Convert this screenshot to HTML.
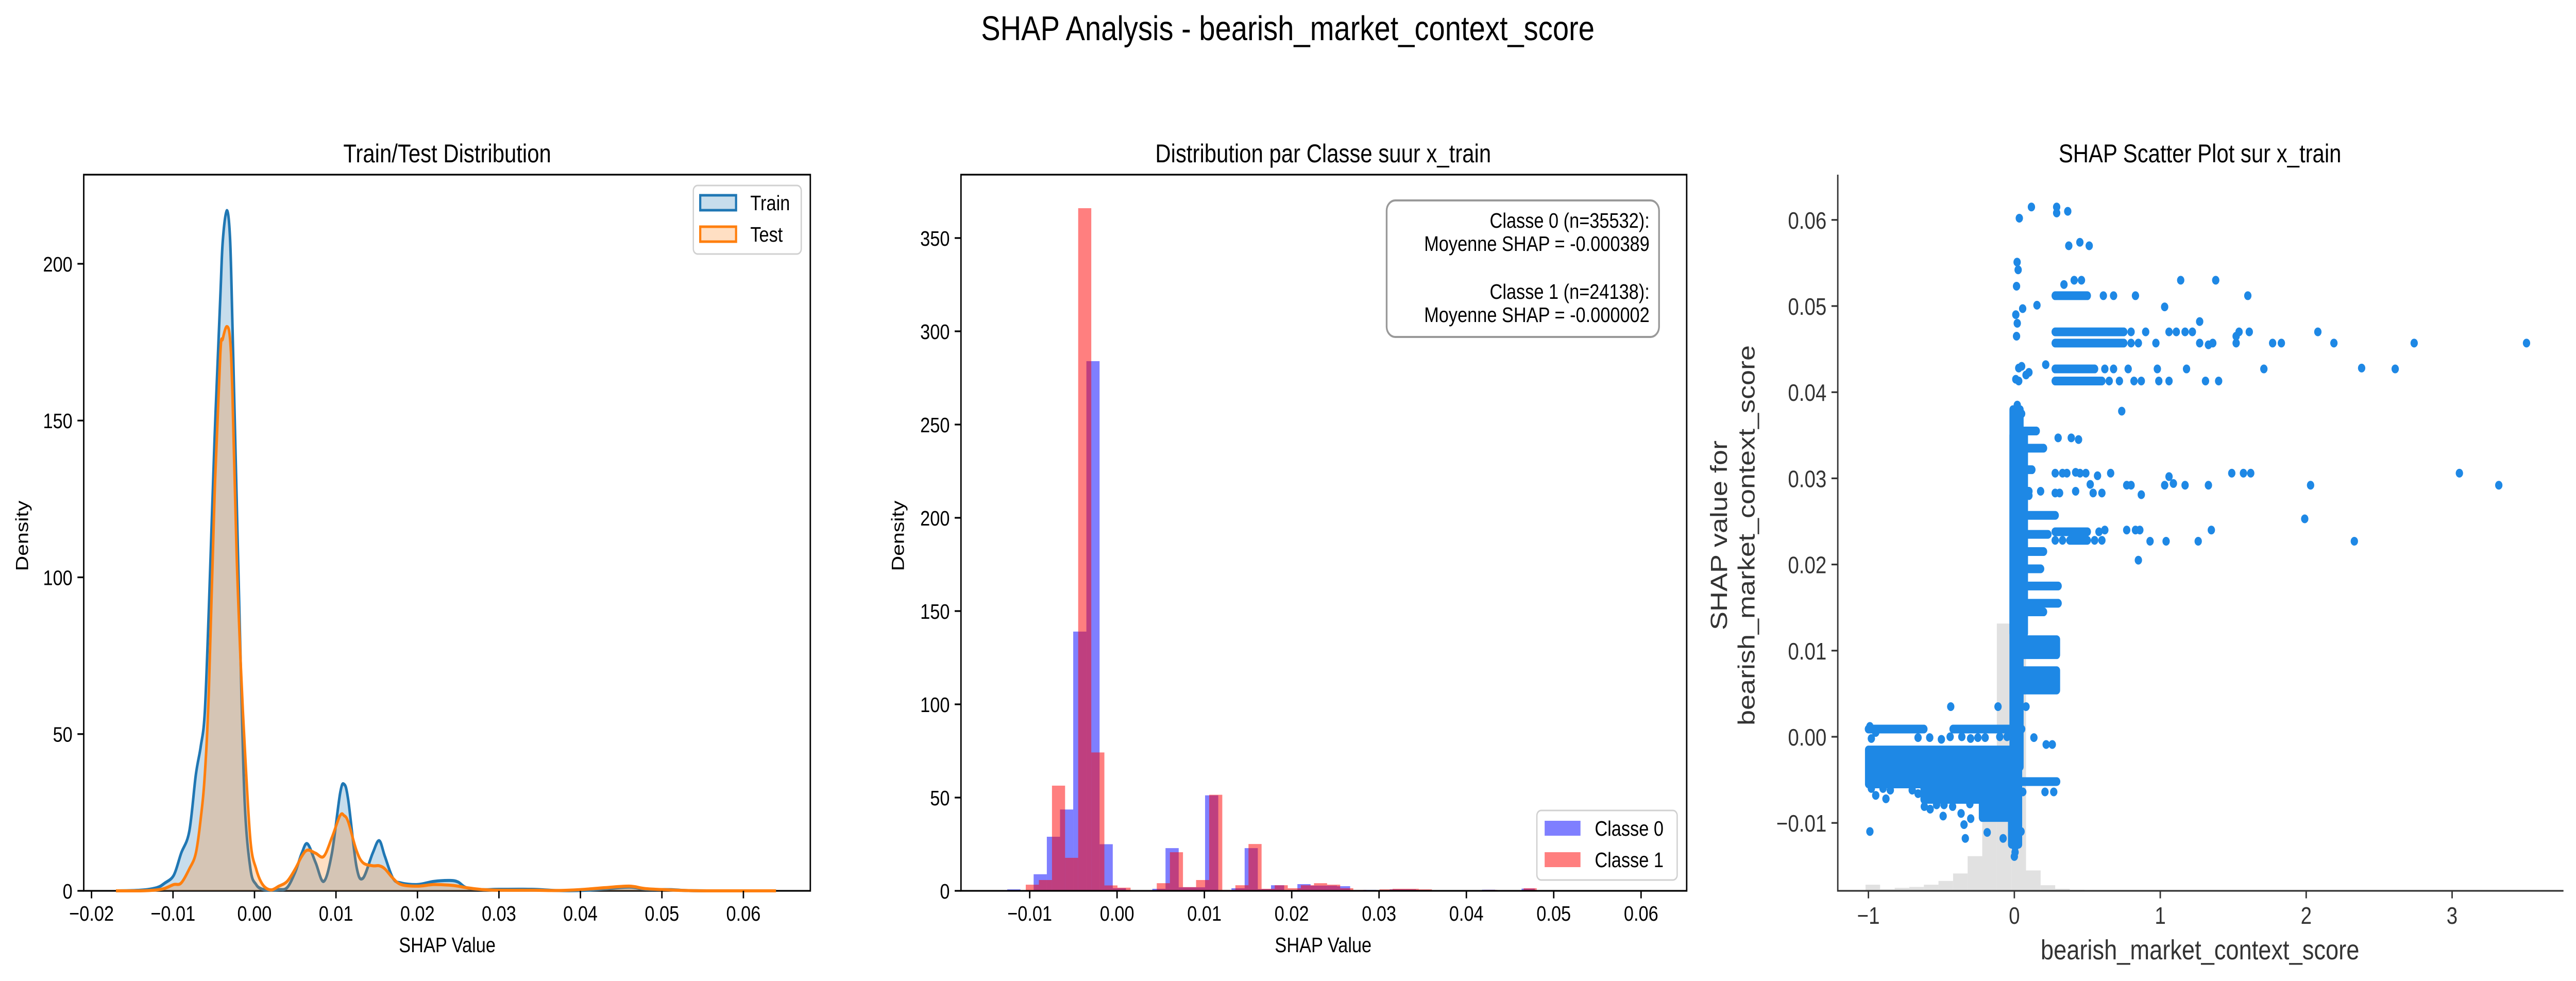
<!DOCTYPE html>
<html><head><meta charset="utf-8">
<style>
html,body{margin:0;padding:0;background:#fff;width:100%;height:100%;overflow:hidden;}
svg{display:block;width:100vw;height:100vh;font-family:"Liberation Sans","DejaVu Sans",sans-serif;}
</style></head>
<body>
<svg id="fig" xmlns="http://www.w3.org/2000/svg" viewBox="0 0 5967 1904" preserveAspectRatio="none">
<rect x="0" y="0" width="5967" height="1904" fill="#fff"/>
<text x="2983" y="78" font-size="67" text-anchor="middle" fill="#000">SHAP Analysis - bearish_market_context_score</text>
<g id="p1"></g>
<g id="p2"></g>
<g id="p3"></g>
</svg>
<script>
// ---------- Panel 1 data: KDE ----------
const kdeX = [-0.0170,-0.0140,-0.0120,-0.0110,-0.0099,-0.0090,-0.0080,-0.0072,-0.0066,-0.0061,-0.0056,-0.0049,-0.0042,-0.0039,-0.0034,-0.0030,-0.0027,-0.0022,-0.0017,-0.0012,-0.0005,0.0002,0.0010,0.0020,0.0030,0.0040,0.0050,0.0058,0.0065,0.0075,0.0085,0.0095,0.0105,0.0110,0.0115,0.0125,0.0133,0.0145,0.0153,0.0160,0.0170,0.0180,0.0200,0.0220,0.0240,0.0250,0.0260,0.0280,0.0300,0.0340,0.0370,0.0400,0.0430,0.0460,0.0480,0.0510,0.0530,0.0560,0.0640];
const trainDensity = [0,0.2,1,2.5,5,12,19,37,46,57,90,144,189,207,217,208,180,126,73,28,7,2,0.5,0.3,0.4,1,6,12,15,9,3,12,31,34,29,8,4,12,16,11,4,2.5,2,3,3.3,2.8,1,0.4,0.5,0.5,0.1,0.1,0.6,1.2,0.5,0.4,0.1,0,0];
const testDensity = [0,0,0.3,0.8,2,2.5,7,12,23,37,64,126,171,176,180,176,158,108,73,46,16,7,2,0.3,1.5,3,7,11,13,12,11,17,24,24,22,13,9,8,8,7,4,2,1.5,2,1.8,1.5,1,0.4,0.2,0.2,0.1,0.4,1,1.5,0.7,0.3,0.1,0,0];
const p1XTicks = [-0.02,-0.01,0.00,0.01,0.02,0.03,0.04,0.05,0.06];
const p1XTickLabels = ["\u22120.02","\u22120.01","0.00","0.01","0.02","0.03","0.04","0.05","0.06"];
const p1YTicks = [0,50,100,150,200];

// ---------- Panel 2 data: histograms ----------
const class0Start = -0.01257;
const class0Width = 0.00151;
const class0Heights = [0.8,0.2,8.9,29,43.6,139,284,25,1.4,0,0.3,1.1,22.9,1.9,1.9,51.2,0.3,1.4,22.9,0.9,3,0.5,3.6,2.8,2.8,2.5,0.3,0.5,0.3,0.8,0.8,0.5,0.2,0.1,0.1,0.3,0.6,0.1,0.2,1.2,0.1,0.1,0.2,0.1];
const class1Start = -0.01195;
const class1Width = 0.00150;
const class1Heights = [0.3,3.3,5.8,56.4,17.7,366,74.2,2.9,1.7,0,0.3,4.1,20.7,2,5.8,51.5,0.5,3,25.1,1.1,3,1.4,3,4.1,3.3,1.4,0.5,0.2,0.8,1.1,1.1,0.8,0.1,0.1,0.1,0.2,0.5,0.1,0.1,1.4,0.1];
const p2XTicks = [-0.01,0.00,0.01,0.02,0.03,0.04,0.05,0.06];
const p2XTickLabels = ["\u22120.01","0.00","0.01","0.02","0.03","0.04","0.05","0.06"];
const p2YTicks = [0,50,100,150,200,250,300,350];

// ---------- Panel 3 data: scatter ----------
const grayStart = -1.02;
const grayWidth = 0.1;
const grayCounts = [6,1.5,2.9,3.8,6,9.7,17,34,69,262,245,20,5.5,2,1,0.5];
const denseX0 = [-1.0,-0.62,-0.22,-0.02,-0.01,0.0,0.0,-0.01];
const denseX1 = [0.03,0.03,0.03,0.03,0.04,0.29,0.29,0.07];
const denseS0 = [-0.0055,-0.0073,-0.0094,-0.0125,-0.0035,0.0095,0.0054,0.012];
const denseS1 = [-0.0015,-0.0049,-0.0073,-0.0094,0.038,0.0113,0.0077,0.035];
const bandX0 = [-1.0,-0.42,0.03,0,0,0,0,0,0,0,0,0,0,0,0.28,0.28,0.28,0.28,0.28,0.28,0.38];
const bandX1 = [-0.62,0.05,0.29,0.3,0.3,0.2,0.18,0.2,0.23,0.28,0.1,0.12,0.2,0.15,0.5,0.75,0.75,0.55,0.6,0.5,0.5];
const bandS  = [0.0009,0.0009,-0.0052,0.0175,0.0155,0.0145,0.0195,0.0215,0.0235,0.0257,0.0285,0.031,0.0335,0.0355,0.0512,0.0470,0.0457,0.0427,0.0413,0.0238,0.0228];
const ptX = [0.034,0.117,0.29,0.29,0.366,0.373,0.449,0.513,0.019,0.026,0.015,0.34,0.41,0.46,0.61,0.68,0.83,1.6,0.155,0.057,1.03,1.14,1.38,0.01,0.02,0.015,
0.80,0.9,1.06,1.11,1.17,1.22,1.54,1.61,2.08,
0.8,0.85,0.97,1.27,1.33,1.36,1.52,1.77,1.83,2.19,2.74,3.51,1.27,1.52,
0.62,0.68,0.78,0.98,1.18,1.71,2.38,2.61,0.215,0.1,0.05,0.03,
0.65,0.72,0.82,0.87,0.99,1.06,1.31,1.40,0.01,0.03,0.08,
0.736,0.30,0.39,0.44,0.02,0.05,
0.28,0.33,0.36,0.42,0.45,0.49,0.57,0.66,1.06,1.49,1.57,1.62,3.05,
0.52,0.77,0.8,1.03,1.09,1.17,1.33,2.03,3.32,
0.28,0.31,0.42,0.54,0.6,0.87,0.1,0.18,
0.58,0.62,0.77,0.83,0.86,1.35,
0.28,0.33,0.55,0.6,0.93,1.04,1.26,2.33,1.99,0.85,
-0.436,-0.112,-0.99,-0.336,-0.186,-0.345,-0.488,-0.617,-0.577,-0.533,-0.482,-0.423,-0.305,-0.365,-0.299,0.134,0.218,0.26,0.058,0.21,0.27,0.046,-0.077,0.005,0.005,0.0,
-0.98,-0.66,-0.58,-0.5,-0.44,-0.36,-0.3,-0.25,-0.2,-0.1,-0.05,
-0.99,-0.95,-0.98,-0.9,-0.85,-0.7,-0.66,-0.55,-0.95,-0.88,
0.08,0.0,0.0];
const ptS = [0.0602,0.0615,0.0615,0.0608,0.061,0.057,0.0574,0.057,0.0551,0.0542,0.0523,0.0525,0.053,0.053,0.0512,0.0512,0.0512,0.0512,0.0501,0.0497,0.0499,0.053,0.053,0.049,0.048,0.0465,
0.047,0.047,0.047,0.047,0.047,0.047,0.047,0.047,0.047,
0.0457,0.0457,0.0457,0.0457,0.0455,0.0457,0.0457,0.0457,0.0457,0.0457,0.0457,0.0457,0.0482,0.0465,
0.0427,0.0427,0.0427,0.0427,0.0427,0.0427,0.0428,0.0427,0.0432,0.0423,0.043,0.0428,
0.0413,0.0413,0.0413,0.0413,0.0413,0.0413,0.0413,0.0413,0.0415,0.0413,0.042,
0.0378,0.0347,0.0347,0.0345,0.0385,0.0375,
0.0306,0.0306,0.0306,0.0307,0.0306,0.0306,0.0303,0.0306,0.0302,0.0306,0.0306,0.0306,0.0306,
0.0293,0.0292,0.0292,0.0292,0.0294,0.0292,0.0292,0.0292,0.0292,
0.0283,0.0283,0.0285,0.0283,0.0283,0.0281,0.028,0.0285,
0.0238,0.024,0.024,0.024,0.024,0.024,
0.0228,0.0228,0.0228,0.0228,0.0227,0.0227,0.0227,0.0227,0.0253,0.0205,
0.0035,0.0035,-0.0110,-0.0118,-0.0111,-0.0102,-0.0092,-0.0081,-0.0084,-0.0079,-0.0079,-0.0081,-0.0078,-0.0089,-0.0095,-0.0001,-0.0009,-0.0009,-0.0064,-0.0064,-0.0064,-0.011,-0.0118,-0.0128,-0.0134,-0.0139,
-0.0002,-0.0001,-0.0001,-0.0003,0.0,0.0,-0.0002,-0.0001,-0.0001,0.0,0.0,
0.0012,0.0005,-0.006,-0.006,-0.0062,-0.0062,-0.0066,-0.0066,-0.0068,-0.0072,
0.0035,0.003,0.002];
const p3XTicks = [-1,0,1,2,3];
const p3XTickLabels = ["\u22121","0","1","2","3"];
const p3YTicks = [-0.01,0.00,0.01,0.02,0.03,0.04,0.05,0.06];
const p3YTickLabels = ["\u22120.01","0.00","0.01","0.02","0.03","0.04","0.05","0.06"];

const NS = "http://www.w3.org/2000/svg";
function mk(tag, attrs, parent){const e=document.createElementNS(NS,tag);for(const k in attrs)e.setAttribute(k,attrs[k]);parent.appendChild(e);return e;}

// ===== Panel 1 =====
(function(){
  const g=document.getElementById('p1');
  const L=194,R=1877,T=339,B=1729;
  const xs=v=>589.5+v*18875;
  const ys=v=>B-v*6.085;
  function smooth(vals){
    const P=kdeX.map((x,i)=>[xs(x),ys(vals[i])]);
    let d='M'+P[0][0].toFixed(1)+','+P[0][1].toFixed(1);
    for(let i=0;i<P.length-1;i++){
      const p0=P[Math.max(0,i-1)],p1=P[i],p2=P[i+1],p3=P[Math.min(P.length-1,i+2)];
      const c1x=p1[0]+(p2[0]-p0[0])/6,c1y=Math.min(B,p1[1]+(p2[1]-p0[1])/6);
      const c2x=p2[0]-(p3[0]-p1[0])/6,c2y=Math.min(B,p2[1]-(p3[1]-p1[1])/6);
      d+=' C'+c1x.toFixed(1)+','+c1y.toFixed(1)+' '+c2x.toFixed(1)+','+c2y.toFixed(1)+' '+p2[0].toFixed(1)+','+p2[1].toFixed(1);
    }
    return d;
  }
  const box=mk('rect',{x:L,y:T,width:R-L,height:B-T,fill:'none',stroke:'#000','stroke-width':3.3},g);
  
  
  function area(vals,color,name){
    const l=smooth(vals);
    const d=l+' L'+xs(kdeX[kdeX.length-1])+','+B+' L'+xs(kdeX[0])+','+B+' Z';
    const f=mk('path',{d:d,fill:color,'fill-opacity':0.25,stroke:'none'},g);
    
    
    const ln=mk('path',{d:l,fill:'none',stroke:color,'stroke-width':6,'stroke-linejoin':'round'},g);
    
    
  }
  area(trainDensity,'#1f77b4','train-kde');
  area(testDensity,'#ff7f0e','test-kde');
  p1XTicks.forEach((v,i)=>{
    const t=mk('line',{x1:xs(v),x2:xs(v),y1:B,y2:B+14.6,stroke:'#000','stroke-width':3.3},g);
    
    
    const tx=mk('text',{x:xs(v),y:B+58,'font-size':41,'text-anchor':'middle'},g);
    tx.textContent=p1XTickLabels[i];
    
    
  });
  p1YTicks.forEach(v=>{
    const t=mk('line',{x1:L-14.6,x2:L,y1:ys(v),y2:ys(v),stroke:'#000','stroke-width':3.3},g);
    
    
    const tx=mk('text',{x:L-26,y:ys(v)+15,'font-size':41,'text-anchor':'end'},g);
    tx.textContent=String(v);
    
    
  });
  const ti=mk('text',{x:1036,y:315,'font-size':50,'text-anchor':'middle'},g);ti.textContent='Train/Test Distribution';
  
  
  const xl=mk('text',{x:1036,y:1848,'font-size':41,'text-anchor':'middle'},g);xl.textContent='SHAP Value';
  
  
  const yl=mk('text',{x:0,y:0,'font-size':41,'text-anchor':'middle',transform:'translate(65,1040) rotate(-90)'},g);yl.textContent='Density';
  
  
  const lg=mk('rect',{x:1606,y:360,width:250,height:133,rx:10,fill:'#fff','fill-opacity':0.8,stroke:'#d0d0d0','stroke-width':3},g);
  
  
  [['Train','#1f77b4',379],['Test','#ff7f0e',440]].forEach(e=>{
    const p=mk('rect',{x:1622,y:e[2],width:83,height:29,fill:e[1],'fill-opacity':0.25,stroke:e[1],'stroke-width':5},g);
    
    
    const t=mk('text',{x:1738,y:e[2]+29,'font-size':41},g);t.textContent=e[0];
    
    
  });
})();

// ===== Panel 2 =====
(function(){
  const g=document.getElementById('p2');
  const L=2226,R=3907,T=339,B=1729;
  const xs=v=>2587.5+v*20230;
  const ys=v=>B-v*3.62;
  function bars(start,w,h,color,name){
    h.forEach((v,i)=>{
      if(v<=0)return;
      const x0=xs(start+i*w),x1=xs(start+(i+1)*w);
      const r=mk('rect',{x:x0,y:ys(v),width:x1-x0,height:B-ys(v),fill:color,'fill-opacity':0.5},g);
      
      
    });
  }
  bars(class0Start,class0Width,class0Heights,'#0000ff','classe-0');
  bars(class1Start,class1Width,class1Heights,'#ff0000','classe-1');
  const box=mk('rect',{x:L,y:T,width:R-L,height:B-T,fill:'none',stroke:'#000','stroke-width':3.3},g);
  
  
  p2XTicks.forEach((v,i)=>{
    const t=mk('line',{x1:xs(v),x2:xs(v),y1:B,y2:B+14.6,stroke:'#000','stroke-width':3.3},g);
    
    
    const tx=mk('text',{x:xs(v),y:B+58,'font-size':41,'text-anchor':'middle'},g);
    tx.textContent=p2XTickLabels[i];
    
    
  });
  p2YTicks.forEach(v=>{
    const t=mk('line',{x1:L-14.6,x2:L,y1:ys(v),y2:ys(v),stroke:'#000','stroke-width':3.3},g);
    
    
    const tx=mk('text',{x:L-26,y:ys(v)+15,'font-size':41,'text-anchor':'end'},g);
    tx.textContent=String(v);
    
    
  });
  const ti=mk('text',{x:3065,y:315,'font-size':50,'text-anchor':'middle'},g);ti.textContent='Distribution par Classe suur x_train';
  
  
  const xl=mk('text',{x:3065,y:1848,'font-size':41,'text-anchor':'middle'},g);xl.textContent='SHAP Value';
  
  
  const yl=mk('text',{x:0,y:0,'font-size':41,'text-anchor':'middle',transform:'translate(2094,1040) rotate(-90)'},g);yl.textContent='Density';
  
  
  const sb=mk('rect',{x:3212,y:389,width:631,height:265,rx:20,fill:'#fff','fill-opacity':0.8,stroke:'#999','stroke-width':4},g);
  
  
  [['Classe 0 (n=35532):',442],['Moyenne SHAP = -0.000389',487],['Classe 1 (n=24138):',580],['Moyenne SHAP = -0.000002',625]].forEach(e=>{
    const t=mk('text',{x:3821,y:e[1],'font-size':41,'text-anchor':'end'},g);t.textContent=e[0];
    
    
  });
  const lg=mk('rect',{x:3560,y:1573,width:325,height:135,rx:10,fill:'#fff','fill-opacity':0.8,stroke:'#d0d0d0','stroke-width':3},g);
  
  
  [['Classe 0','#0000ff',1593],['Classe 1','#ff0000',1654]].forEach((e,i)=>{
    const p=mk('rect',{x:3578,y:e[2],width:83,height:29,fill:e[1],'fill-opacity':0.5},g);
    
    
    const t=mk('text',{x:3694,y:e[2]+29,'font-size':41},g);t.textContent=e[0];
    
    
  });
})();

// ===== Panel 3 =====
(function(){
  const g=document.getElementById('p3');
  const L=4257,R=5938,T=339,B=1729;
  const xs=v=>4666+v*338;
  const ys=v=>1430-v*16720;
  const BLUE='#1e88e5';
  grayCounts.forEach((c,i)=>{
    const x0=xs(grayStart+i*grayWidth),x1=xs(grayStart+(i+1)*grayWidth);
    const r=mk('rect',{x:x0,y:B-c*1.98,width:x1-x0,height:c*1.98,fill:'#e1e1e1'},g);
    
    
  });
  const pts=mk('g',{},g);
  
  
  denseX0.forEach((x0,i)=>{
    const X0=xs(x0)-8,X1=xs(denseX1[i])+8,Y0=ys(denseS1[i])-8,Y1=ys(denseS0[i])+8;
    const r=mk('rect',{x:X0,y:Y0,width:X1-X0,height:Y1-Y0,rx:8,fill:BLUE},pts);
    
    
  });
  bandX0.forEach((x0,i)=>{
    const l=mk('line',{x1:xs(x0),x2:xs(bandX1[i]),y1:ys(bandS[i]),y2:ys(bandS[i]),stroke:BLUE,'stroke-width':17,'stroke-linecap':'round'},pts);
    
    
  });
  ptX.forEach((x,i)=>{
    const c=mk('circle',{cx:xs(x),cy:ys(ptS[i]),r:8.5,fill:BLUE},pts);
    
    
  });
  const ax=mk('path',{d:'M'+L+','+T+' L'+L+','+B+' L'+R+','+B,fill:'none',stroke:'#333','stroke-width':3.3},g);
  
  
  p3XTicks.forEach((v,i)=>{
    const t=mk('line',{x1:xs(v),x2:xs(v),y1:B,y2:B+14.6,stroke:'#333','stroke-width':3.3},g);
    
    
    const tx=mk('text',{x:xs(v),y:B+64,'font-size':46,'text-anchor':'middle',fill:'#333'},g);
    tx.textContent=p3XTickLabels[i];
    
    
  });
  p3YTicks.forEach((v,i)=>{
    const t=mk('line',{x1:L-14.6,x2:L,y1:ys(v),y2:ys(v),stroke:'#333','stroke-width':3.3},g);
    
    
    const tx=mk('text',{x:L-26,y:ys(v)+17,'font-size':46,'text-anchor':'end',fill:'#333'},g);
    tx.textContent=p3YTickLabels[i];
    
    
  });
  const ti=mk('text',{x:5096,y:315,'font-size':50,'text-anchor':'middle'},g);ti.textContent='SHAP Scatter Plot sur x_train';
  
  
  const xl=mk('text',{x:5096,y:1862,'font-size':54,'text-anchor':'middle',fill:'#333'},g);xl.textContent='bearish_market_context_score';
  
  
  const yl1=mk('text',{x:0,y:0,'font-size':54,'text-anchor':'middle',fill:'#333',transform:'translate(4000,1039) rotate(-90)'},g);yl1.textContent='SHAP value for';
  
  
  const yl2=mk('text',{x:0,y:0,'font-size':54,'text-anchor':'middle',fill:'#333',transform:'translate(4064,1039) rotate(-90)'},g);yl2.textContent='bearish_market_context_score';
  
  
})();
</script>
</body></html>
